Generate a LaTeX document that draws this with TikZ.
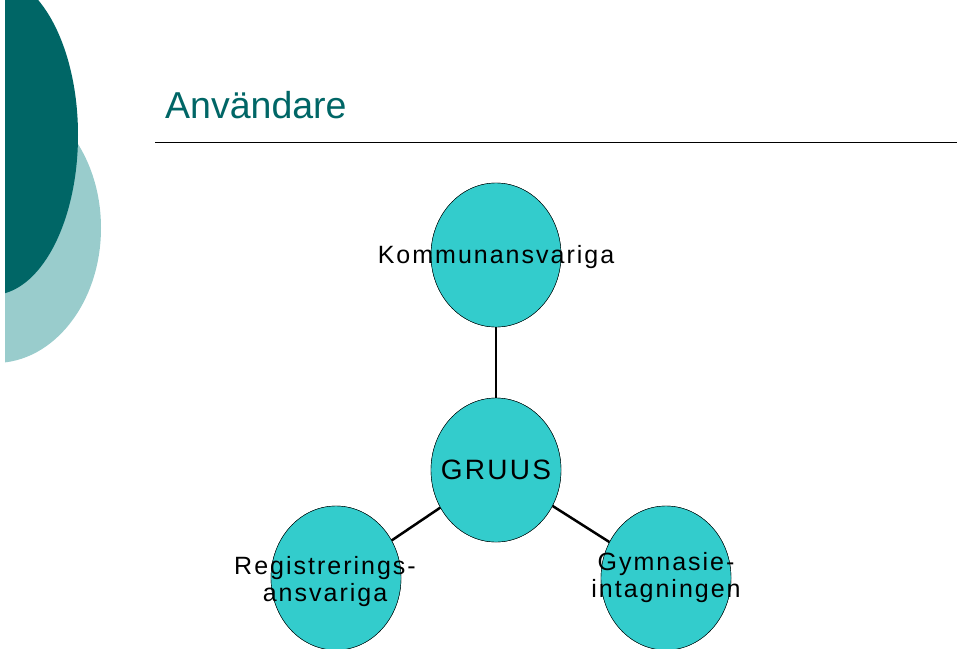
\documentclass[tikz,border=0pt]{standalone}
\usepackage{fontspec}
\usetikzlibrary{shapes.geometric}
\setmainfont{Liberation Sans}
\newfontfamily\spaced[LetterSpace=8]{Liberation Sans}
\definecolor{darkteal}{RGB}{0,102,102}
\definecolor{lightteal}{RGB}{153,204,204}
\definecolor{cyanfill}{RGB}{51,204,204}
\begin{document}
\begin{tikzpicture}[x=1pt,y=-1pt,
  blob/.style={ellipse,draw=black,fill=cyanfill,minimum width=130pt,minimum height=144pt,inner sep=0pt},
  lbl/.style={font=\spaced\fontsize{25}{27}\selectfont,align=center,inner sep=0pt},
  conn/.style={line width=2.5pt}]
\useasboundingbox (0,0) rectangle (960,648);
\begin{scope}
\clip (5,0) rectangle (200,400);
\fill[lightteal] (-5,228) ellipse [x radius=106, y radius=135];
\fill[darkteal] (-8,135) ellipse [x radius=86, y radius=160];
\end{scope}
\node[anchor=west,text=darkteal,font=\fontsize{37.5}{40}\selectfont,inner sep=0pt] (title) at (165,105) {Användare};
\coordinate (la) at (155,142); \coordinate (lb) at (957,142);
\draw[line width=0.8pt] (la) -- (lb);
\node[blob] (top) at (496,255) {};
\node[blob] (mid) at (496,470) {};
\node[blob] (left) at (336,578) {};
\node[blob] (right) at (666,578) {};
\begin{scope}[on background layer/.style={}]
\end{scope}
\draw[conn] (top.south) -- (mid.north);
\draw[conn] (mid) -- (left);
\draw[conn] (mid) -- (right);
\node[blob] at (496,470) {};
\node[blob] at (336,578) {};
\node[blob] at (666,578) {};
\node[blob] at (496,255) {};
\node[lbl] (t1) at (496,257) {Kommunansvariga};
\node[lbl,font=\spaced\fontsize{28}{30}\selectfont] (t2) at (496,470) {GRUUS};
\node[lbl] (t3) at (325,582) {Registrerings-\\ansvariga};
\node[lbl] (t4) at (666,578) {Gymnasie-\\intagningen};
\end{tikzpicture}
\end{document}
